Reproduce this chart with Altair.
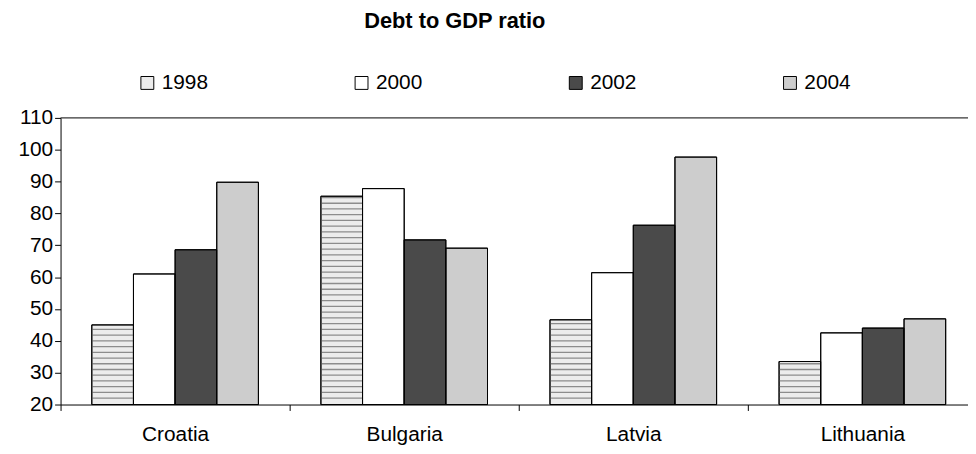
import altair as alt
import numpy as np
import pandas as pd

countries = ["Croatia", "Bulgaria", "Latvia", "Lithuania"]
years = ["1998", "2000", "2002", "2004"]
v1998 = [45.0, 85.4, 46.6, 33.5]
v2000 = [61.0, 87.8, 61.4, 42.5]
v2002 = [68.6, 71.7, 76.3, 44.0]
v2004 = [89.8, 69.1, 97.7, 46.9]
y_ticks = [20, 30, 40, 50, 60, 70, 80, 90, 100, 110]
year_colors = ["#ececec", "#ffffff", "#4a4a4a", "#cdcdcd"]

series = {"1998": v1998, "2000": v2000, "2002": v2002, "2004": v2004}
rows = []
for y in years:
    for c, v in zip(countries, series[y]):
        rows.append({"Country": c, "Year": y, "Value": v, "Base": 20})
df = pd.DataFrame(rows)

# horizontal hatch lines for the 1998 bars, derived from their values
stripe_rows = []
for c, v in zip(countries, v1998):
    for s in np.arange(20 + 1.8, v - 0.3, 1.8):
        stripe_rows.append({"Country": c, "Year": "1998", "s0": float(s), "s1": float(s) + 0.4})
sdf = pd.DataFrame(stripe_rows)

FONT = "Liberation Sans"
FS = 21

x_axis = alt.Axis(title=None, labelAngle=0, tickBand="extent", tickSize=6,
                  labelFontSize=FS, labelFont=FONT, labelColor="black",
                  labelPadding=13, domainColor="black", tickColor="black")
y_axis = alt.Axis(title=None, values=y_ticks, tickSize=6, labelOverlap=False,
                  labelFontSize=FS, labelFont=FONT, labelColor="black",
                  labelPadding=2, domainColor="black", tickColor="black", grid=False)
x_scale = alt.Scale(range=[0, 924], paddingInner=0, paddingOuter=0)
xo_scale = alt.Scale(paddingInner=0, paddingOuter=0.75)
y_scale = alt.Scale(domain=[20, 110], zero=False, nice=False)


def xenc():
    return alt.X("Country:N", sort=countries, scale=x_scale, axis=x_axis)


def xoenc():
    return alt.XOffset("Year:N", sort=years, scale=xo_scale)


bars = alt.Chart(df).mark_bar(stroke="black", strokeWidth=1).encode(
    x=xenc(),
    xOffset=xoenc(),
    y=alt.Y("Value:Q", scale=y_scale, axis=y_axis),
    y2="Base:Q",
    fill=alt.Fill("Year:N", sort=years,
                  scale=alt.Scale(domain=years, range=year_colors),
                  legend=alt.Legend(title=None, orient="none", legendX=77, legendY=-46,
                                    direction="horizontal", symbolType="square",
                                    symbolSize=169, symbolStrokeColor="black",
                                    symbolStrokeWidth=1, labelFontSize=FS, labelFont=FONT,
                                    labelColor="black", labelOffset=4, columnPadding=144)),
)

stripes = alt.Chart(sdf).mark_bar(color="#8c8c8c").encode(
    x=xenc(),
    xOffset=xoenc(),
    y=alt.Y("s0:Q", scale=y_scale, axis=y_axis),
    y2="s1:Q",
)

outline = alt.Chart(df).mark_bar(fillOpacity=0, stroke="black", strokeWidth=1).encode(
    x=xenc(),
    xOffset=xoenc(),
    y=alt.Y("Value:Q", scale=y_scale, axis=y_axis),
    y2="Base:Q",
)

top_line = alt.Chart(pd.DataFrame({"t": [110]})).mark_rule(color="black", strokeWidth=1).encode(
    y=alt.Y("t:Q", scale=y_scale, axis=y_axis)
)

chart = alt.layer(bars, stripes, outline, top_line).properties(
    width=915,
    height=289,
    autosize=alt.AutoSizeParams(type="none"),
    padding={"left": 53, "top": 109, "right": 0, "bottom": 40},
    title=alt.TitleParams("Debt to GDP ratio", fontSize=22, fontWeight="bold", font=FONT,
                          color="black", anchor="middle", dx=-60, offset=40),
).configure_view(stroke=None)

chart.save("out.html", embed_options={"renderer": "svg", "actions": False})
